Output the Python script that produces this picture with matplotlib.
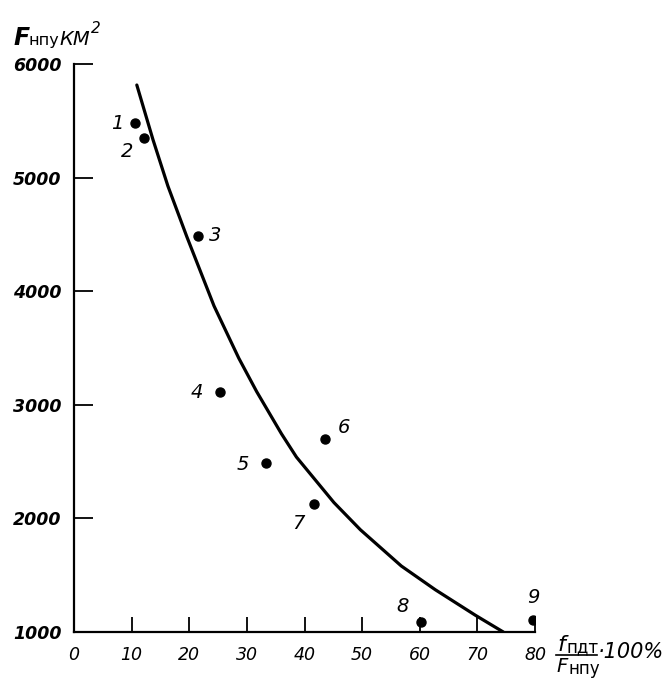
import matplotlib
matplotlib.use("Agg")
import matplotlib.pyplot as plt

# Observation points
point_ids = ["1", "2", "3", "4", "5", "6", "7", "8", "9"]
point_x = [10.6, 12.1, 21.5, 25.3, 33.3, 43.5, 41.6, 60.3, 79.7]
point_y = [5480, 5350, 4490, 3110, 2490, 2700, 2130, 1090, 1105]

# Curve
curve_x = [10.9, 13.7, 16.3, 19.6, 24.3, 28.6, 31.7, 36.0, 38.6, 45.1, 49.7,
           56.8, 62.7, 69.7, 74.5]
curve_y = [5815, 5335, 4925, 4477, 3870, 3410, 3116, 2745, 2540, 2140, 1900,
           1581, 1372, 1146, 1000]

x_ticks = [0, 10, 20, 30, 40, 50, 60, 70, 80]
y_ticks = [1000, 2000, 3000, 4000, 5000, 6000]

# label offsets in pixels (dx, dy)
label_offsets = [(-18, 0), (-17, -14), (17, 0), (-23, 0), (-23, -2),
                 (19, 11), (-15, -20), (-19, 15), (0, 23)]

W, H = 670, 681
fig = plt.figure(figsize=(W / 100, H / 100), dpi=100)
ax = fig.add_axes([74 / W, 1 - 632 / H, (535 - 74) / W, (632 - 64) / H])

ax.plot(curve_x, curve_y, color="black", lw=2.3, solid_capstyle="round",
        solid_joinstyle="round")
ax.plot(point_x, point_y, "o", color="black", ms=6.5)

for pid, x, y, (dx, dy) in zip(point_ids, point_x, point_y, label_offsets):
    ax.annotate(pid, (x, y), xytext=(dx, dy), textcoords="offset pixels",
                ha="center", va="center", fontsize=14, style="italic")

ax.set_xlim(0, 80)
ax.set_ylim(1000, 6000)
ax.set_xticks(x_ticks)
ax.set_yticks(y_ticks)
ax.set_xticklabels([str(t) for t in x_ticks], style="italic", fontsize=12.5)
ax.set_yticklabels([str(t) for t in y_ticks], style="italic", fontsize=12.5,
                   fontweight="bold")
ax.tick_params(axis="x", direction="in", length=11, width=1.3, pad=10)
ax.tick_params(axis="y", direction="in", length=14, width=1.3, pad=9)
for s in ["top", "right"]:
    ax.spines[s].set_visible(False)
for s in ["left", "bottom"]:
    ax.spines[s].set_linewidth(1.6)


def px(x, y):
    return x / W, 1 - y / H


# y-axis label: F_нпу КМ²
fig.text(*px(13, 45), "F", fontsize=17, style="italic", fontweight="bold",
         ha="left", va="baseline")
fig.text(*px(28, 45), "нпу", fontsize=11.5, ha="left", va="baseline")
fig.text(*px(59, 45), "КМ", fontsize=14, style="italic", ha="left", va="baseline")
fig.text(*px(91, 33), "2", fontsize=11, style="italic", ha="left", va="baseline")

# x-axis label: f_пдт / F_нпу · 100%
fig.text(*px(557, 651), "f", fontsize=16, style="italic", ha="left", va="baseline")
fig.text(*px(567, 652), "пдт", fontsize=12, ha="left", va="baseline")
fig.add_artist(plt.Line2D([556 / W, 597 / W], [1 - 655 / H, 1 - 655 / H],
                          color="black", lw=1.2))
fig.text(*px(556, 672), "F", fontsize=14, style="italic", ha="left", va="baseline")
fig.text(*px(568, 674), "нпу", fontsize=12, ha="left", va="baseline")
fig.text(*px(598, 658), "·100%", fontsize=15, style="italic", ha="left",
         va="baseline")

fig.savefig("out.png", dpi=100, facecolor="white")
